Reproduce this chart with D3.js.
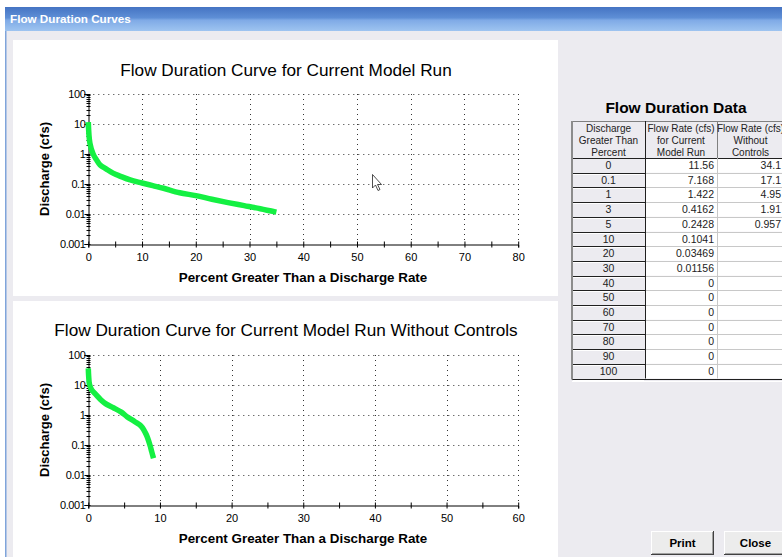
<!DOCTYPE html>
<html><head><meta charset="utf-8">
<script src="https://cdn.jsdelivr.net/npm/d3@7"></script>
<style>
html,body{margin:0;padding:0;background:#fff;}
svg{display:block;}
text{font-family:"Liberation Sans",Arial,sans-serif;}
</style></head><body>
<svg id="c" width="782" height="557"></svg>
<script>
// ---------- data ----------
const topTitle = "Flow Duration Curve for Current Model Run";
const botTitle = "Flow Duration Curve for Current Model Run Without Controls";
const xAxisTitle = "Percent Greater Than a Discharge Rate";
const yAxisTitle = "Discharge (cfs)";
const yTickValues = [0.001, 0.01, 0.1, 1, 10, 100];
const yTickLabels = ["0.001", "0.01", "0.1", "1", "10", "100"];
const topXTicks = [0, 10, 20, 30, 40, 50, 60, 70, 80];
const botXTicks = [0, 10, 20, 30, 40, 50, 60];
// curve: percent exceeded, discharge (cfs)
const curPct  = [0, 0.3, 0.9, 1.5, 2.2, 3.3, 4.6, 6, 7.8, 10, 12, 14, 17, 20, 23, 26, 29, 32, 35];
const curFlow = [11.6, 2.3, 1.0, 0.65, 0.43, 0.32, 0.23, 0.18, 0.136, 0.108, 0.088, 0.072, 0.051, 0.041, 0.031, 0.024, 0.019, 0.015, 0.0115];
const ncPct  = [0, 0.05, 0.15, 0.45, 1.1, 1.7, 2.4, 3.5, 4.6, 5.4, 6.5, 7.4, 8.1, 8.6, 8.85, 9.1];
const ncFlow = [36, 20, 11, 7, 4.7, 3.3, 2.4, 1.75, 1.25, 0.88, 0.6, 0.42, 0.22, 0.1, 0.06, 0.036];
// table
const tableTitle = "Flow Duration Data";
const hdr1 = ["Discharge", "Greater Than", "Percent"];
const hdr2 = ["Flow Rate (cfs)", "for Current", "Model Run"];
const hdr3 = ["Flow Rate (cfs)", "Without", "Controls"];
const tblPct = ["0", "0.1", "1", "3", "5", "10", "20", "30", "40", "50", "60", "70", "80", "90", "100"];
const tblCur = ["11.56", "7.168", "1.422", "0.4162", "0.2428", "0.1041", "0.03469", "0.01156", "0", "0", "0", "0", "0", "0", "0"];
const tblNoCtrl = ["34.1", "17.1", "4.95", "1.91", "0.957"];

// ---------- frame ----------
const svg = d3.select("#c");
const BG = "#ECEBF0";
const defs = svg.append("defs");
const g1 = defs.append("linearGradient").attr("id", "tb").attr("x1", 0).attr("y1", 0).attr("x2", 0).attr("y2", 1);
g1.append("stop").attr("offset", "0").attr("stop-color", "#4574C3");
g1.append("stop").attr("offset", "0.45").attr("stop-color", "#5E8FD6");
g1.append("stop").attr("offset", "0.55").attr("stop-color", "#7FAAE6");
g1.append("stop").attr("offset", "1").attr("stop-color", "#9EC4F0");

svg.append("rect").attr("x", 5).attr("y", 7).attr("width", 777).attr("height", 550).attr("fill", BG);
svg.append("rect").attr("x", 5).attr("y", 7).attr("width", 777).attr("height", 24).attr("fill", "url(#tb)");
svg.append("rect").attr("x", 5).attr("y", 31).attr("width", 1.5).attr("height", 526).attr("fill", "#7FA4DA");
svg.append("text").attr("x", 10).attr("y", 23).attr("fill", "#fff").attr("font-weight", "bold")
  .attr("font-size", "11.7px").text("Flow Duration Curves");

// white panels
svg.append("rect").attr("x", 13).attr("y", 40).attr("width", 545).attr("height", 256).attr("fill", "#fff");
svg.append("rect").attr("x", 13).attr("y", 301).attr("width", 545).attr("height", 256).attr("fill", "#fff");

const GREEN = "#14F042";

function chart(cfg) {
  const x = d3.scaleLinear().domain([0, cfg.xmax]).range([88.3, 518.2]);
  const y = d3.scaleLog().domain([0.001, 100]).range([cfg.y0, cfg.y0 - 150]);
  const g = svg.append("g");
  // grid
  const grid = g.append("g").attr("stroke", "#333").attr("stroke-width", 1).attr("stroke-dasharray", "1,4");
  cfg.xticks.filter(d => d > 0).forEach(d => {
    grid.append("line").attr("x1", Math.round(x(d)) + 0.5).attr("x2", Math.round(x(d)) + 0.5)
      .attr("y1", y(100)).attr("y2", y(0.001));
  });
  yTickValues.filter(d => d > 0.001).forEach(d => {
    grid.append("line").attr("y1", Math.round(y(d)) + 0.5).attr("y2", Math.round(y(d)) + 0.5)
      .attr("x1", x(0)).attr("x2", x(cfg.xmax));
  });
  // x axis
  const xa = d3.axisBottom(x).tickValues(d3.range(0, cfg.xmax + 1, 5)).tickSize(3)
    .tickFormat(d => cfg.xticks.includes(d) ? String(d) : "");
  const xg = g.append("g").attr("transform", `translate(0,${Math.round(y(0.001)) + 0.5})`).call(xa);
  xg.select(".domain").attr("stroke", "#000");
  xg.selectAll(".tick line").attr("y1", -3).attr("stroke", "#000");
  xg.selectAll(".tick text").attr("font-family", "Liberation Sans, Arial, sans-serif").attr("font-size", "11px")
    .attr("fill", "#000").attr("dy", "0.95em");
  // y axis: minor ticks
  const minors = [];
  for (let e = -3; e < 2; e++) for (let m = 2; m < 10; m++) minors.push(m * Math.pow(10, e));
  const ya = d3.axisLeft(y).tickValues(yTickValues).tickSize(4)
    .tickFormat((d, i) => yTickLabels[i]);
  const yg = g.append("g").attr("transform", `translate(${Math.round(x(0)) + 0.5},0)`).call(ya);
  yg.select(".domain").attr("stroke", "#000");
  yg.selectAll(".tick line").attr("x2", -4).attr("x1", 2).attr("stroke", "#000");
  yg.selectAll(".tick text").attr("font-family", "Liberation Sans, Arial, sans-serif").attr("font-size", "11px")
    .attr("fill", "#000").attr("x", -3).attr("letter-spacing", "-0.4px");
  minors.forEach(d => {
    yg.append("line").attr("x1", -2).attr("x2", 2).attr("y1", Math.round(y(d)) + 0.5).attr("y2", Math.round(y(d)) + 0.5)
      .attr("stroke", "#000");
  });
  // curve
  const data = cfg.px.map((p, i) => [p, cfg.fl[i]]);
  g.append("path").datum(data)
    .attr("d", d3.line().x(d => x(d[0])).y(d => y(d[1])).curve(d3.curveCatmullRom.alpha(0.5)))
    .attr("fill", "none").attr("stroke", GREEN).attr("stroke-width", 5.5).attr("stroke-linejoin", "round");
  // titles
  g.append("text").attr("x", 286).attr("y", cfg.titleY).attr("text-anchor", "middle").attr("font-size", "17.2px")
    .attr("fill", "#000").text(cfg.title);
  g.append("text").attr("x", 303).attr("y", y(0.001) + 38).attr("text-anchor", "middle").attr("font-size", "13.4px")
    .attr("font-weight", "bold").attr("fill", "#000").text(xAxisTitle);
  const ym = (y(0.001) + y(100)) / 2;
  g.append("text").attr("transform", `translate(49,${ym}) rotate(-90)`).attr("text-anchor", "middle")
    .attr("font-size", "13px").attr("font-weight", "bold").attr("fill", "#000").text(yAxisTitle);
}

chart({xmax: 80, y0: 244, xticks: topXTicks, px: curPct, fl: curFlow, title: topTitle, titleY: 76});
chart({xmax: 60, y0: 505, xticks: botXTicks, px: ncPct, fl: ncFlow, title: botTitle, titleY: 336});

// mouse cursor (decoration seen in the screenshot)
svg.append("path").attr("d", "M372.5,174.5 L372.5,188 L375.5,185 L378,190.5 L380,189.5 L377.5,184.5 L381.5,184.5 Z")
  .attr("fill", "#fff").attr("stroke", "#222").attr("stroke-width", 0.8);

// ---------- table ----------
svg.append("text").attr("x", 676).attr("y", 113).attr("text-anchor", "middle").attr("font-size", "15.5px")
  .attr("font-weight", "bold").attr("fill", "#000").text(tableTitle);

const cols = [572, 645, 717, 784];
const tTop = 121, hBot = 158, rowH = 14.7;
const tg = svg.append("g");
// header background
tg.append("rect").attr("x", cols[0]).attr("y", tTop).attr("width", cols[3] - cols[0]).attr("height", hBot - tTop).attr("fill", BG);
// body cells
tblPct.forEach((p, i) => {
  const ry = hBot + i * rowH;
  tg.append("rect").attr("x", cols[0]).attr("y", ry).attr("width", cols[1] - cols[0]).attr("height", rowH).attr("fill", BG);
  tg.append("rect").attr("x", cols[1]).attr("y", ry).attr("width", cols[3] - cols[1]).attr("height", rowH).attr("fill", "#fff");
});
// grid lines
tblPct.forEach((p, i) => {
  const ly = Math.round(hBot + (i + 1) * rowH) + 0.5;
  tg.append("line").attr("x1", cols[0]).attr("x2", cols[1]).attr("y1", ly).attr("y2", ly).attr("stroke", "#202020");
  tg.append("line").attr("x1", cols[1]).attr("x2", cols[3]).attr("y1", ly).attr("y2", ly).attr("stroke", "#C8C8C8");
  tg.append("line").attr("x1", cols[0] + 1).attr("x2", cols[1] - 1).attr("y1", ly + 1).attr("y2", ly + 1).attr("stroke", "#fff");
});
const tBot = hBot + tblPct.length * rowH;
tg.append("line").attr("x1", cols[0]).attr("x2", cols[3]).attr("y1", Math.round(tBot) + 0.5).attr("y2", Math.round(tBot) + 0.5).attr("stroke", "#202020");
tg.append("line").attr("x1", cols[0]).attr("x2", cols[3]).attr("y1", hBot + 0.5).attr("y2", hBot + 0.5).attr("stroke", "#202020");
tg.append("line").attr("x1", cols[0]).attr("x2", cols[3]).attr("y1", tTop + 0.5).attr("y2", tTop + 0.5).attr("stroke", "#808080");
tg.append("line").attr("x1", cols[1] + 0.5).attr("x2", cols[1] + 0.5).attr("y1", tTop).attr("y2", tBot).attr("stroke", "#202020");
tg.append("line").attr("x1", cols[2] + 0.5).attr("x2", cols[2] + 0.5).attr("y1", tTop).attr("y2", hBot).attr("stroke", "#808080");
tg.append("line").attr("x1", cols[2] + 0.5).attr("x2", cols[2] + 0.5).attr("y1", hBot).attr("y2", tBot).attr("stroke", "#C8C8C8");
tg.append("rect").attr("x", cols[0] - 1).attr("y", tTop).attr("width", 2).attr("height", tBot - tTop + 1).attr("fill", "#8C8C8C");
tg.append("line").attr("x1", cols[0]).attr("x2", cols[3]).attr("y1", Math.round(tBot) + 2.5).attr("y2", Math.round(tBot) + 2.5).attr("stroke", "#fff");

const tf = "10px";
[hdr1, hdr2, hdr3].forEach((h, c) => {
  const cx = (cols[c] + cols[c + 1]) / 2;
  h.forEach((t, k) => {
    tg.append("text").attr("x", cx).attr("y", tTop + 11 + k * 12).attr("text-anchor", "middle")
      .attr("font-size", tf).attr("fill", "#222").text(t);
  });
});
tblPct.forEach((p, i) => {
  const by = hBot + i * rowH + 11;
  tg.append("text").attr("x", (cols[0] + cols[1]) / 2).attr("y", by).attr("text-anchor", "middle").attr("font-size", "10.5px").attr("fill", "#222").text(p);
  tg.append("text").attr("x", cols[2] - 3).attr("y", by).attr("text-anchor", "end").attr("font-size", "10.5px").attr("fill", "#222").text(tblCur[i]);
  if (i < tblNoCtrl.length)
    tg.append("text").attr("x", cols[3] - 3).attr("y", by).attr("text-anchor", "end").attr("font-size", "10.5px").attr("fill", "#222").text(tblNoCtrl[i]);
});

// ---------- buttons ----------
function button(x0, label) {
  const b = svg.append("g");
  b.append("rect").attr("x", x0).attr("y", 531).attr("width", 63).attr("height", 24).attr("fill", "#404040");
  b.append("rect").attr("x", x0).attr("y", 531).attr("width", 62).attr("height", 23).attr("fill", "#fff");
  b.append("rect").attr("x", x0 + 1).attr("y", 532).attr("width", 61).attr("height", 22).attr("fill", "#A0A0A0");
  b.append("rect").attr("x", x0 + 1).attr("y", 532).attr("width", 60).attr("height", 21).attr("fill", "#ECECEC");
  b.append("text").attr("x", x0 + 31.5).attr("y", 547).attr("text-anchor", "middle").attr("font-size", "11.5px")
    .attr("font-weight", "bold").attr("fill", "#000").text(label);
}
button(651, "Print");
button(724, "Close");
</script>
</body></html>
